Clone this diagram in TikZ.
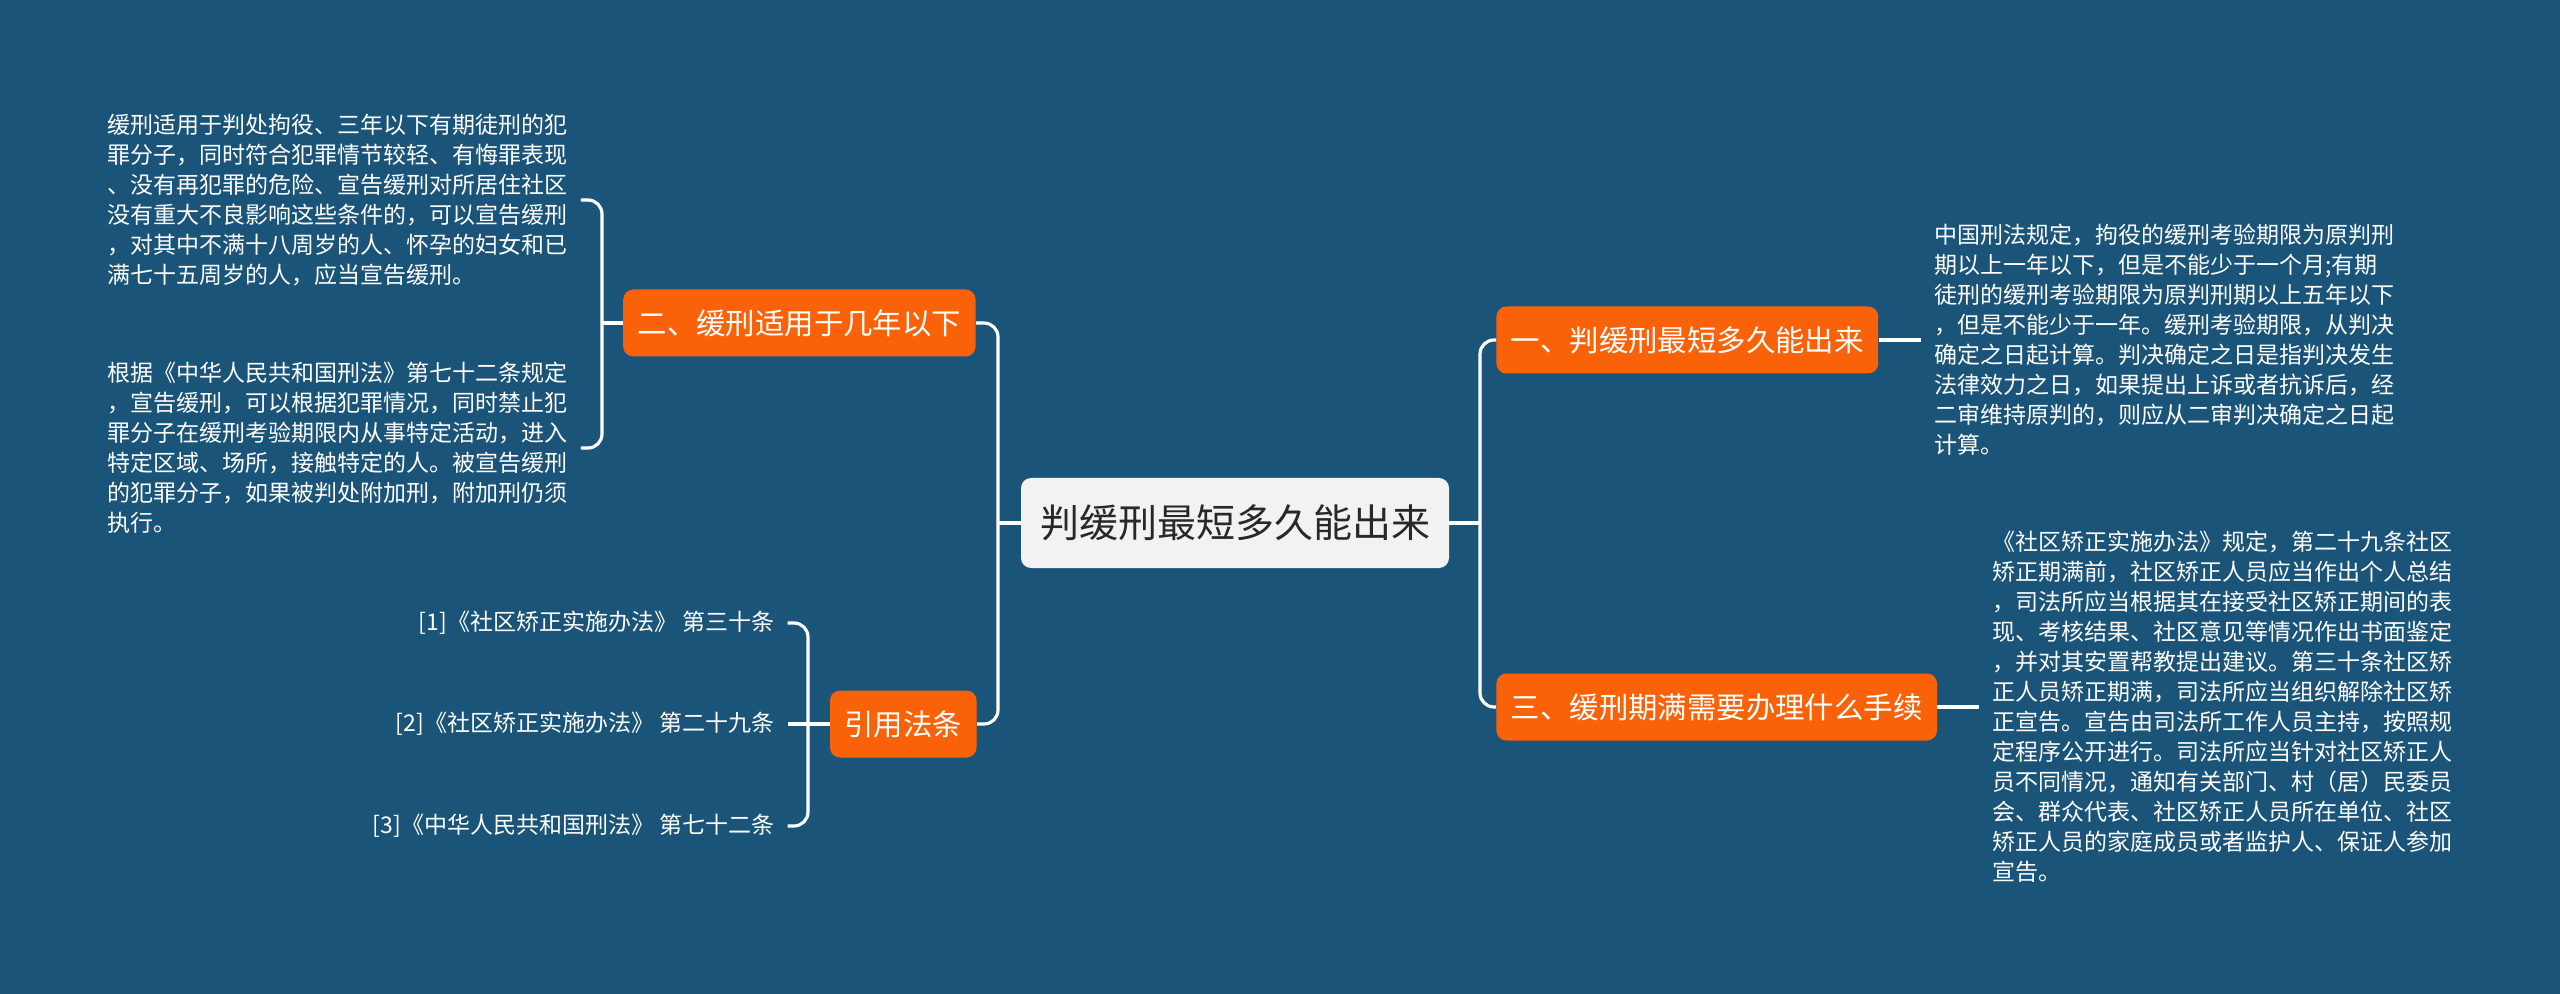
\documentclass[tikz,border=0pt]{standalone}
\usepackage{fontspec}
\setmainfont{Noto Sans CJK SC}
\usetikzlibrary{positioning}
\definecolor{bgblue}{RGB}{27,84,121}
\definecolor{topicorange}{RGB}{250,98,10}
\definecolor{rootgray}{RGB}{242,242,242}
\definecolor{roottext}{RGB}{40,40,40}

\begin{document}
\begin{tikzpicture}[
    x=0.5pt, y=-0.5pt,
    node distance=21pt,
    root/.style={rectangle, fill=rootgray, text=roottext, rounded corners=5pt, minimum height=45pt, inner xsep=9.5pt, font=\fontsize{19.5pt}{23pt}\selectfont},
    topic/.style={rectangle, fill=topicorange, text=white, rounded corners=5pt, minimum height=33.5pt, inner xsep=7.25pt, font=\fontsize{14.7pt}{18pt}\selectfont},
    leaf/.style={align=left, text=white, inner xsep=6.5pt, inner ysep=0pt, font=\fontsize{11.5pt}{15pt}\selectfont},
    link/.style={draw=white, line width=1.6pt, rounded corners=7pt},
]
% Background
\path[use as bounding box, fill=bgblue] (0,0) rectangle (2560,994);

% Root
\node[root] (root) at (1235,523) {判缓刑最短多久能出来};

% Topics
\node[topic, anchor=west] (n1) at (1496,340) {一、判缓刑最短多久能出来};
\node[topic, anchor=west] (n3) at (1496,707) {三、缓刑期满需要办理什么手续};
\node[topic, anchor=east] (n2) at (976,323) {二、缓刑适用于几年以下};
\node[topic, anchor=east] (cite) at (977,724) {引用法条};

% Right texts
\node[leaf, right=of n1] (r1) {中国刑法规定，拘役的缓刑考验期限为原判刑\\期以上一年以下，但是不能少于一个月;有期\\徒刑的缓刑考验期限为原判刑期以上五年以下\\，但是不能少于一年。缓刑考验期限，从判决\\确定之日起计算。判决确定之日是指判决发生\\法律效力之日，如果提出上诉或者抗诉后，经\\二审维持原判的，则应从二审判决确定之日起\\计算。};
\node[leaf, right=of n3] (r3) {《社区矫正实施办法》规定，第二十九条社区\\矫正期满前，社区矫正人员应当作出个人总结\\，司法所应当根据其在接受社区矫正期间的表\\现、考核结果、社区意见等情况作出书面鉴定\\，并对其安置帮教提出建议。第三十条社区矫\\正人员矫正期满，司法所应当组织解除社区矫\\正宣告。宣告由司法所工作人员主持，按照规\\定程序公开进行。司法所应当针对社区矫正人\\员不同情况，通知有关部门、村（居）民委员\\会、群众代表、社区矫正人员所在单位、社区\\矫正人员的家庭成员或者监护人、保证人参加\\宣告。};

% Left texts
\node[leaf, left=of n2, yshift=61.5pt] (ta) {缓刑适用于判处拘役、三年以下有期徒刑的犯\\罪分子，同时符合犯罪情节较轻、有悔罪表现\\、没有再犯罪的危险、宣告缓刑对所居住社区\\没有重大不良影响这些条件的，可以宣告缓刑\\，对其中不满十八周岁的人、怀孕的妇女和已\\满七十五周岁的人，应当宣告缓刑。};
\node[leaf, left=of n2, yshift=-62.5pt] (tb) {根据《中华人民共和国刑法》第七十二条规定\\，宣告缓刑，可以根据犯罪情况，同时禁止犯\\罪分子在缓刑考验期限内从事特定活动，进入\\特定区域、场所，接触特定的人。被宣告缓刑\\的犯罪分子，如果被判处附加刑，附加刑仍须\\执行。};

% Citations
\node[leaf, left=of cite, yshift=50.5pt] (c1) {[1]《社区矫正实施办法》 第三十条};
\node[leaf, left=of cite] (c2) {[2]《社区矫正实施办法》 第二十九条};
\node[leaf, left=of cite, yshift=-51pt] (c3) {[3]《中华人民共和国刑法》 第七十二条};

% Links, right side
\coordinate (rs) at (1480,523);
\draw[link] (root.east) -- (rs);
\draw[link] (rs) |- (n1.west);
\draw[link] (rs) |- (n3.west);
\draw[link] (n1.east) -- (r1.west);
\draw[link] (n3.east) -- (r3.west);

% Links, left side
\coordinate (ls) at (998,523);
\draw[link] (root.west) -- (ls);
\draw[link] (ls) |- (n2.east);
\draw[link] (ls) |- (cite.east);
\coordinate (ts) at (602,323);
\draw[link] (n2.west) -- (ts);
\draw[link] (ts) |- (ta.east);
\draw[link] (ts) |- (tb.east);
\coordinate (cs) at (808,724);
\draw[link] (cite.west) -- (c2.east);
\draw[link] (cs) |- (c1.east);
\draw[link] (cs) |- (c3.east);
\end{tikzpicture}
\end{document}
